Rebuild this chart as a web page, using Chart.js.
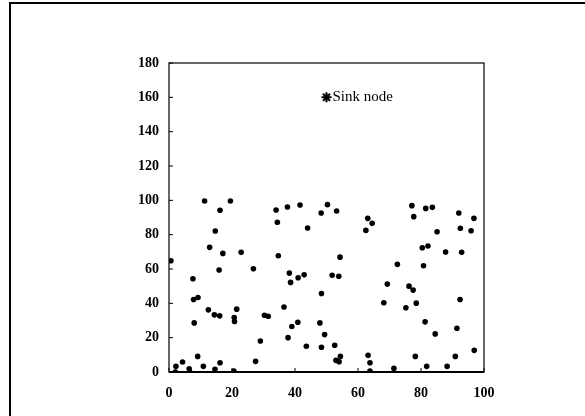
<!DOCTYPE html>
<html>
<head>
<meta charset="utf-8">
<script src="https://cdn.jsdelivr.net/npm/chart.js@4/dist/chart.umd.min.js"></script>
<style>
    body { margin: 0; background: #fff; }
    #wrap { width: 585px; height: 416px; position: relative; }
</style>
</head>
<body>
<div id="wrap"><canvas id="Chart"></canvas></div>
<script>
// sensor node positions
const nodeX = [0.6, 2, 2.2, 4.3, 6.4, 6.6, 7.6, 7.8, 9.2, 8.0, 9.1, 10.9, 11.3, 12.5, 12.9, 14.4, 14.6, 14.7, 15.9, 16.1,
    16.2, 16.2, 17.1, 19.5, 20.6, 20.7, 20.8, 21.5, 22.9, 26.8, 27.5, 29.0, 30.3, 31.5, 34.0, 34.4, 34.7, 36.5, 37.6, 37.8,
    38.2, 38.6, 39.0, 41.0, 40.9, 41.6, 42.9, 43.6, 44.0, 47.9, 48.3, 48.4, 48.4, 49.4, 50.3, 51.8, 52.6, 53.0, 53.2, 53.9,
    54.0, 54.3, 54.4, 62.5, 63.1, 63.2, 63.8, 63.8, 64.5, 68.2, 69.3, 71.4, 72.5, 75.2, 76.2, 77.1, 77.5, 77.7, 78.2, 78.5,
    80.4, 80.8, 81.3, 81.5, 81.8, 82.2, 83.6, 84.5, 85.1, 87.8, 88.3, 90.9, 91.4, 92.0, 92.4, 92.5, 92.9, 95.9, 96.8, 96.9];
const nodeY = [64.8, 0, 3.3, 5.8, 1.9, 0, 54.3, 42.2, 43.4, 28.6, 9.1, 3.3, 99.6, 36.2, 72.6, 33.3, 1.6, 82.1, 59.4, 32.7,
    5.4, 94.2, 69.1, 99.6, 0.6, 31.7, 29.4, 36.6, 69.7, 60.1, 6.2, 18.1, 33.1, 32.5, 94.4, 87.2, 67.7, 37.9, 96.1, 20.0,
    57.6, 52.2, 26.5, 54.9, 29.0, 97.3, 56.6, 15.0, 83.9, 28.6, 92.6, 45.7, 14.4, 21.8, 97.5, 56.4, 15.6, 6.8, 93.8, 55.8,
    6.0, 66.9, 9.1, 82.5, 89.5, 9.7, 5.4, 0.6, 86.6, 40.3, 51.2, 2.1, 62.7, 37.4, 50.0, 96.9, 47.7, 90.5, 9.1, 40.1,
    72.4, 61.9, 29.2, 95.3, 3.3, 73.4, 95.9, 22.2, 81.7, 69.9, 3.3, 9.1, 25.5, 92.6, 42.2, 83.7, 69.7, 82.3, 89.5, 12.6];
const sinkX = [50];
const sinkY = [160];
const sinkLabel = 'Sink node';
const xTicks = [0, 20, 40, 60, 80, 100];
const yTicks = [0, 20, 40, 60, 80, 100, 120, 140, 160, 180];

const tickFont = { family: 'Liberation Serif', size: 14, weight: 'bold' };

// white page, outer frame, plot box and the sink label
const framePlugin = {
    id: 'frame',
    beforeDraw(chart) {
        const ctx = chart.ctx;
        ctx.save();
        ctx.fillStyle = '#fff';
        ctx.fillRect(0, 0, chart.width, chart.height);
        ctx.strokeStyle = '#000';
        ctx.lineWidth = 2;
        ctx.beginPath();
        ctx.moveTo(10, chart.height);
        ctx.lineTo(10, 3);
        ctx.lineTo(chart.width, 3);
        ctx.stroke();
        ctx.restore();
    },
    afterDraw(chart) {
        const ctx = chart.ctx;
        const a = chart.chartArea;
        ctx.save();
        ctx.strokeStyle = '#000';
        ctx.lineWidth = 1.2;
        ctx.strokeRect(a.left, a.top, a.right - a.left, a.bottom - a.top);
        ctx.lineWidth = 2;
        ctx.beginPath();
        ctx.moveTo(a.left, a.bottom);
        ctx.lineTo(a.right, a.bottom);
        ctx.stroke();
        // small inward ticks
        ctx.lineWidth = 1;
        const xs = chart.scales.x, ys = chart.scales.y;
        xTicks.forEach(v => {
            const px = xs.getPixelForValue(v);
            ctx.beginPath(); ctx.moveTo(px, a.bottom); ctx.lineTo(px, a.bottom - 4); ctx.stroke();
        });
        yTicks.forEach(v => {
            const py = ys.getPixelForValue(v);
            ctx.beginPath(); ctx.moveTo(a.left, py); ctx.lineTo(a.left + 4, py); ctx.stroke();
        });
        // label next to the sink marker
        const px = xs.getPixelForValue(sinkX[0]);
        const py = ys.getPixelForValue(sinkY[0]);
        ctx.fillStyle = '#000';
        ctx.font = '15px "Liberation Serif"';
        ctx.textAlign = 'left';
        ctx.textBaseline = 'middle';
        ctx.fillText(sinkLabel, px + 6, py);
        ctx.restore();
    }
};

var ctx = document.getElementById('Chart').getContext('2d');
var chart = new Chart(ctx, {
    type: 'scatter',
    data: {
        datasets: [{
            label: 'Nodes',
            data: nodeX.map((x, i) => ({ x: x, y: nodeY[i] })),
            backgroundColor: '#000',
            borderColor: '#000',
            pointRadius: 2.8,
            borderWidth: 0
        }, {
            label: sinkLabel,
            data: sinkX.map((x, i) => ({ x: x, y: sinkY[i] })),
            pointStyle: 'star',
            pointRadius: 5,
            borderWidth: 2,
            borderColor: '#000',
            backgroundColor: '#000'
        }]
    },
    plugins: [framePlugin],
    options: {
        responsive: true,
        maintainAspectRatio: false,
        animation: false,
        layout: { padding: { left: 129, right: 101, top: 63, bottom: 14 } },
        plugins: { legend: { display: false }, tooltip: { enabled: false } },
        scales: {
            x: {
                type: 'linear', min: 0, max: 100,
                afterFit(scale) { scale.height = 30; },
                afterBuildTicks(scale) { scale.ticks = xTicks.map(v => ({ value: v })); },
                grid: { display: false },
                border: { display: false },
                ticks: { color: '#000', font: tickFont, padding: 5, maxRotation: 0 }
            },
            y: {
                type: 'linear', min: 0, max: 180,
                afterFit(scale) { scale.width = 40; },
                afterBuildTicks(scale) { scale.ticks = yTicks.map(v => ({ value: v })); },
                grid: { display: false },
                border: { display: false },
                ticks: { color: '#000', font: tickFont, padding: 2 }
            }
        }
    }
});
</script>
</body>
</html>
